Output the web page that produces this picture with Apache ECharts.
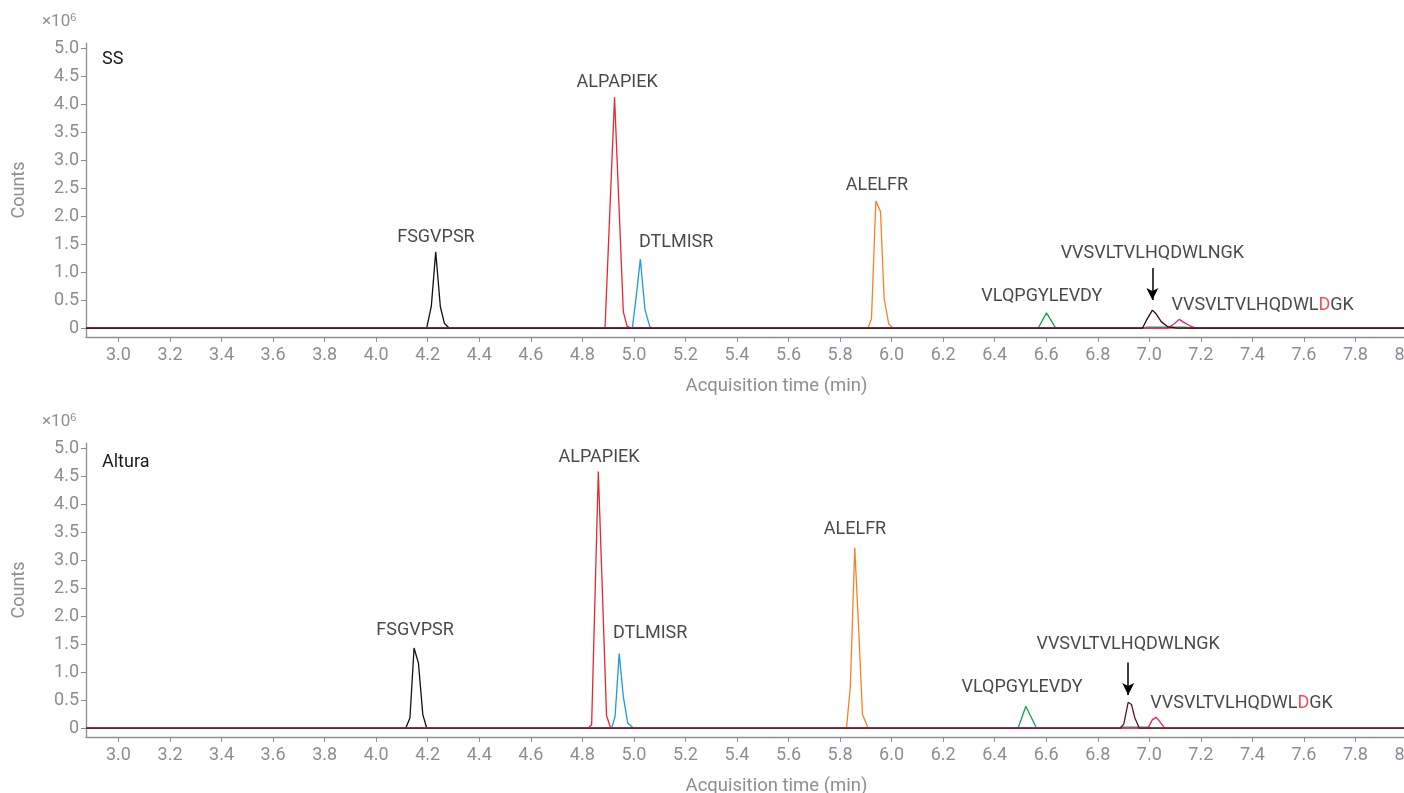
<!DOCTYPE html>
<html>
<head>
<meta charset="utf-8">
<script src="https://cdn.jsdelivr.net/npm/echarts@6/dist/echarts.min.js"></script>
<style>
  html, body { margin: 0; padding: 0; background: #fff; }
  #chart { width: 1404px; height: 793px; }
</style>
</head>
<body>
<div id="chart"></div>
<script>
// axis ticks (min) and intensity ticks (x10^6 counts)
const timeTicks = [3.0, 3.2, 3.4, 3.6, 3.8, 4.0, 4.2, 4.4, 4.6, 4.8, 5.0, 5.2, 5.4, 5.6, 5.8, 6.0, 6.2, 6.4, 6.6, 6.8, 7.0, 7.2, 7.4, 7.6, 7.8, 8.0];
const countTicks = [0, 0.5, 1.0, 1.5, 2.0, 2.5, 3.0, 3.5, 4.0, 4.5, 5.0];
const panelNames = ['SS', 'Altura'];

// run start / end of the trace (baseline)
const runStart = 2.874;
const runEnd = 8.0;

// --- SS column: [time, counts x10^6]
const ssFSGVPSR   = [[4.196, 0], [4.214, 0.39], [4.231, 1.36], [4.249, 0.38], [4.265, 0.08], [4.283, 0]];
const ssALPAPIEK  = [[4.888, 0], [4.905, 1.9], [4.925, 4.12], [4.942, 2.2], [4.959, 0.29], [4.974, 0.03], [4.991, 0]];
const ssDTLMISR   = [[4.994, 0], [5.010, 0.6], [5.025, 1.23], [5.043, 0.33], [5.062, 0.02], [5.075, 0]];
const ssALELFR    = [[5.909, 0], [5.922, 0.17], [5.939, 2.27], [5.957, 2.08], [5.971, 0.53], [5.989, 0.07], [6.006, 0]];
const ssVLQ       = [[6.569, 0], [6.601, 0.27], [6.637, 0], [6.976, 0], [6.99, 0.015], [7.14, 0.015], [7.16, 0]];
const ssVVNGK     = [[6.974, 0], [6.989, 0.14], [7.012, 0.32], [7.025, 0.26], [7.047, 0.11], [7.073, 0.02], [7.11, 0]];
const ssVVDGK     = [[7.073, 0], [7.098, 0.08], [7.116, 0.155], [7.131, 0.11], [7.157, 0.04], [7.183, 0]];

// --- Altura column
const alFSGVPSR   = [[4.115, 0], [4.131, 0.18], [4.147, 1.43], [4.164, 1.16], [4.181, 0.24], [4.196, 0]];
const alALPAPIEK  = [[4.823, 0], [4.836, 0.06], [4.862, 4.58], [4.894, 0.22], [4.910, 0]];
const alDTLMISR   = [[4.914, 0], [4.927, 0.21], [4.943, 1.33], [4.959, 0.56], [4.976, 0.09], [4.998, 0]];
const alALELFR    = [[5.825, 0], [5.840, 0.74], [5.857, 3.22], [5.873, 1.7], [5.887, 0.24], [5.909, 0]];
const alVLQ       = [[6.491, 0], [6.521, 0.39], [6.562, 0], [6.88, 0], [6.89, 0.015], [7.0, 0.015], [7.01, 0]];
const alVVNGK     = [[6.888, 0], [6.901, 0.07], [6.918, 0.46], [6.931, 0.42], [6.944, 0.18], [6.961, 0]];
const alVVDGK     = [[6.995, 0], [7.012, 0.15], [7.027, 0.19], [7.040, 0.12], [7.060, 0]];

// peak labels: [time, counts, text]
const ssLabels = [
  [4.232, 1.61, 'FSGVPSR'],
  [4.935, 4.39, 'ALPAPIEK'],
  [5.164, 1.52, 'DTLMISR'],
  [5.943, 2.55, 'ALELFR'],
  [6.583, 0.57, 'VLQPGYLEVDY'],
  [7.012, 1.34, 'VVSVLTVLHQDWLNGK'],
  [7.440, 0.41, 'VVSVLTVLHQDWL{d|D}GK']
];
const alLabels = [
  [4.151, 1.74, 'FSGVPSR'],
  [4.865, 4.84, 'ALPAPIEK'],
  [5.063, 1.68, 'DTLMISR'],
  [5.858, 3.54, 'ALELFR'],
  [6.506, 0.72, 'VLQPGYLEVDY'],
  [6.918, 1.49, 'VVSVLTVLHQDWLNGK'],
  [7.358, 0.43, 'VVSVLTVLHQDWL{d|D}GK']
];
// arrows: [time, from counts, to counts]
const ssArrow = [7.012, 1.07, 0.50];
const alArrow = [6.918, 1.17, 0.59];

const colors = {
  fsg: '#111111',
  alp: '#e8262d',
  dtl: '#1b9ad8',
  ale: '#f58220',
  vlq: '#16a14b',
  vvn: '#3a0c1e',
  vvd: '#e6197e'
};
const axisGrey = '#8b8e97';
const font = 'Roboto';
const fs = 18;

// pad each trace with the run baseline
function trace(peak) {
  return [[runStart, 0]].concat(peak, [[runEnd, 0]]);
}

function lineSeries(idx, data, color, z) {
  return {
    type: 'line',
    xAxisIndex: idx,
    yAxisIndex: idx,
    data: trace(data),
    showSymbol: false,
    symbol: 'none',
    animation: false,
    z: z,
    lineStyle: { color: color, width: 1.3 }
  };
}

function panelSeries(idx, d, labels, arrow, baseColor) {
  return [
    lineSeries(idx, d[0], colors.fsg, 2),
    lineSeries(idx, d[1], colors.alp, 3),
    lineSeries(idx, d[2], colors.dtl, 3),
    lineSeries(idx, d[3], colors.ale, 3),
    lineSeries(idx, d[4], colors.vlq, 3),
    lineSeries(idx, d[6], colors.vvd, 3),
    Object.assign(lineSeries(idx, d[5], baseColor, 4), {
      markLine: {
        silent: true,
        animation: false,
        symbol: ['none', 'arrow'],
        symbolSize: [9, 12],
        label: { show: false },
        lineStyle: { color: '#000', width: 1.5, type: 'solid' },
        data: [[{ coord: [arrow[0], arrow[1]] }, { coord: [arrow[0], arrow[2]] }]]
      }
    }),
    {
      type: 'scatter',
      xAxisIndex: idx,
      yAxisIndex: idx,
      symbolSize: 0,
      animation: false,
      silent: true,
      data: labels.map(l => [l[0], l[1], l[2]]),
      label: {
        show: true,
        position: 'inside',
        formatter: p => p.data[2],
        color: '#1a1a1a',
        fontFamily: font,
        fontSize: fs,
        rich: { d: { color: '#e8262d', fontFamily: font, fontSize: fs } }
      }
    }
  ];
}

const chart = echarts.init(document.getElementById('chart'));

const grids = [
  { left: 86, right: -3, top: 43, height: 294, containLabel: false, outerBoundsMode: 'none' },
  { left: 86, right: -3, top: 443, height: 294, containLabel: false, outerBoundsMode: 'none' }
];

const xAxes = grids.map((g, i) => ({
  type: 'value',
  gridIndex: i,
  min: runStart,
  max: runEnd,
  name: 'Acquisition time (min)',
  nameLocation: 'middle',
  nameGap: 40,
  nameTextStyle: { color: axisGrey, fontFamily: font, fontSize: 18.5, padding: [0, 0, 0, 60] },
  axisLine: { show: true, onZero: false, lineStyle: { color: axisGrey, width: 1.3 } },
  axisTick: { show: true, length: 5, customValues: timeTicks, lineStyle: { color: axisGrey } },
  axisLabel: {
    customValues: timeTicks,
    formatter: v => v.toFixed(1),
    color: axisGrey, fontFamily: font, fontSize: fs, margin: 9,
    showMaxLabel: true, showMinLabel: true, hideOverlap: false
  },
  splitLine: { show: false }
}));

const yAxes = grids.map((g, i) => ({
  type: 'value',
  gridIndex: i,
  min: -0.16,
  max: 5.09,
  name: 'Counts',
  nameLocation: 'middle',
  nameGap: 58,
  nameRotate: 90,
  nameTextStyle: { color: axisGrey, fontFamily: font, fontSize: fs },
  axisLine: { show: true, lineStyle: { color: axisGrey, width: 1.3 } },
  axisTick: { show: true, length: 5, customValues: countTicks, lineStyle: { color: axisGrey } },
  axisLabel: {
    customValues: countTicks,
    formatter: v => (v === 0 ? '0' : v.toFixed(1)),
    color: axisGrey, fontFamily: font, fontSize: fs, margin: 7
  },
  splitLine: { show: false }
}));

const series = []
  .concat(panelSeries(0, [ssFSGVPSR, ssALPAPIEK, ssDTLMISR, ssALELFR, ssVLQ, ssVVNGK, ssVVDGK], ssLabels, ssArrow, '#2e0a16'))
  .concat(panelSeries(1, [alFSGVPSR, alALPAPIEK, alDTLMISR, alALELFR, alVLQ, alVVNGK, alVVDGK], alLabels, alArrow, '#5a1430'));

const graphics = [];
[0, 1].forEach(i => {
  const off = i * 400;
  graphics.push({
    type: 'text', left: 42, top: 12 + off,
    style: {
      text: '×10{s|6}', fill: axisGrey, font: '17px ' + font,
      rich: { s: { fontSize: 11, verticalAlign: 'top', fill: axisGrey, padding: [0, 0, 9, 0] } }
    }
  });
  graphics.push({
    type: 'text', left: 102, top: 50 + i * 403,
    style: { text: panelNames[i], fill: '#1a1a1a', font: fs + 'px ' + font }
  });
});

chart.setOption({
  animation: false,
  backgroundColor: '#fff',
  grid: grids,
  xAxis: xAxes,
  yAxis: yAxes,
  series: series,
  graphic: graphics
});
</script>
</body>
</html>
